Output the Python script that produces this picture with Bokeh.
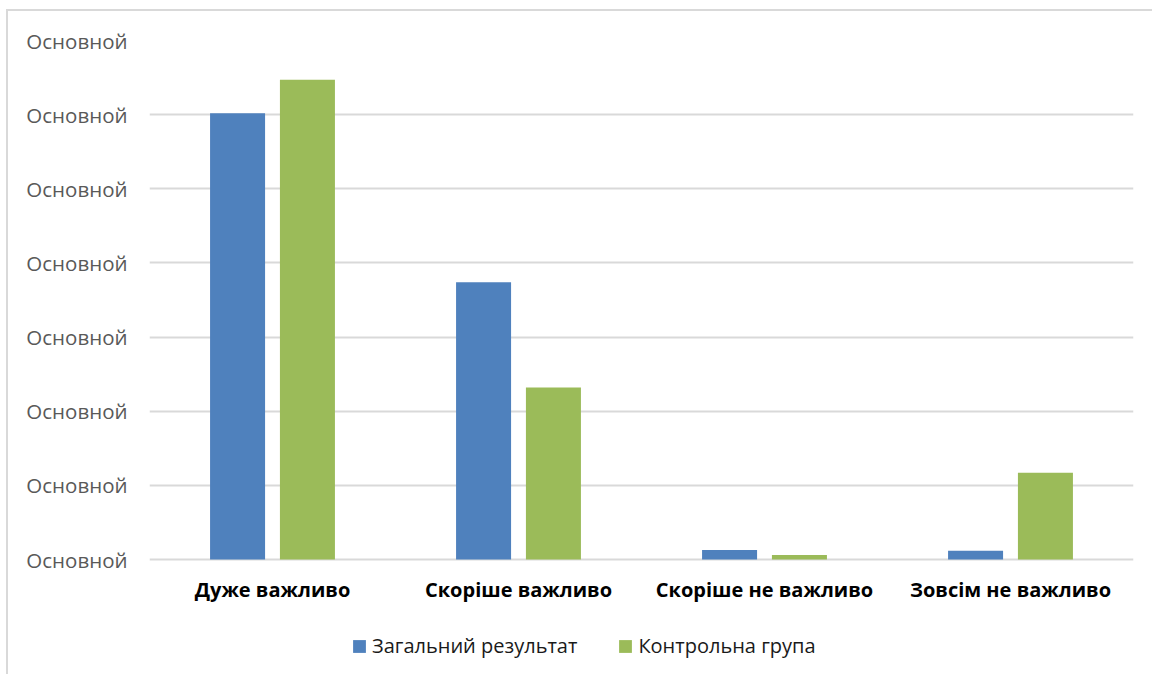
from bokeh.plotting import figure
from bokeh.models import (ColumnDataSource, FactorRange, Range1d, FixedTicker,
                          Legend, LegendItem)
from bokeh.transform import dodge
from bokeh.core.properties import value
from bokeh.embed import file_html
from bokeh.resources import INLINE

categories = ["Дуже важливо", "Скоріше важливо", "Скоріше не важливо", "Зовсім не важливо"]
series_names = ["Загальний результат", "Контрольна група"]
overall = [60.2, 37.4, 1.3, 1.2]
control = [64.7, 23.2, 0.6, 11.7]
y_ticks = [0, 10, 20, 30, 40, 50, 60, 70]
y_tick_label = "Основной"

BLUE = "#4F81BD"
GREEN = "#9BBB59"
GRID = "#d9d9d9"
FONT = "Open Sans"

src = ColumnDataSource(dict(cat=categories, overall=overall, control=control,
                            base=[0] * len(categories)))

# frame spans from the top gridline down to the bottom of the chart area;
# the space below zero holds the category labels and the legend
p = figure(x_range=FactorRange(*categories), y_range=Range1d(-15.5, 70),
           frame_width=984, frame_height=634,
           min_border_left=141, min_border_right=19,
           min_border_top=29, min_border_bottom=0,
           output_backend="svg", toolbar_location=None)
p.styles = {"border-top": "2px solid #d9d9d9", "border-left": "2px solid #d9d9d9",
            "margin-top": "9px", "margin-left": "6px"}
p.outline_line_color = None

r1 = p.vbar(x=dodge("cat", -0.142, range=p.x_range), top="overall", width=0.2236,
            source=src, fill_color=BLUE, line_color=None)
r2 = p.vbar(x=dodge("cat", 0.142, range=p.x_range), top="control", width=0.2236,
            source=src, fill_color=GREEN, line_color=None)

# y axis
p.yaxis.ticker = FixedTicker(ticks=y_ticks)
p.yaxis.major_label_overrides = {t: y_tick_label for t in y_ticks}
p.yaxis.axis_line_color = None
p.yaxis.major_tick_line_color = None
p.yaxis.minor_tick_line_color = None
p.yaxis.major_label_standoff = 16
p.yaxis.major_label_text_font = FONT
p.yaxis.major_label_text_font_size = "20.5px"
p.yaxis.major_label_text_color = "#595959"

p.ygrid.grid_line_color = GRID
p.ygrid.grid_line_width = 2
p.xgrid.grid_line_color = None

# category labels under the zero line, placed through the categorical scale
p.xaxis.visible = False
p.text(x="cat", y="base", text="cat", source=src, y_offset=30,
       text_align="center", text_baseline="middle",
       text_font=value(FONT), text_font_style="bold", text_font_size="20px",
       text_color="#000000")

legend = Legend(items=[LegendItem(label=series_names[0], renderers=[r1]),
                       LegendItem(label=series_names[1], renderers=[r2])],
                orientation="horizontal", location=(202, 15),
                border_line_color=None, background_fill_alpha=0,
                glyph_width=16, glyph_height=16, label_standoff=5, spacing=40,
                label_text_font=FONT, label_text_font_size="20px",
                label_text_color="#1a1a1a", margin=0, padding=4)
p.add_layout(legend, "center")

open("out.html", "w").write(file_html(p, INLINE))
